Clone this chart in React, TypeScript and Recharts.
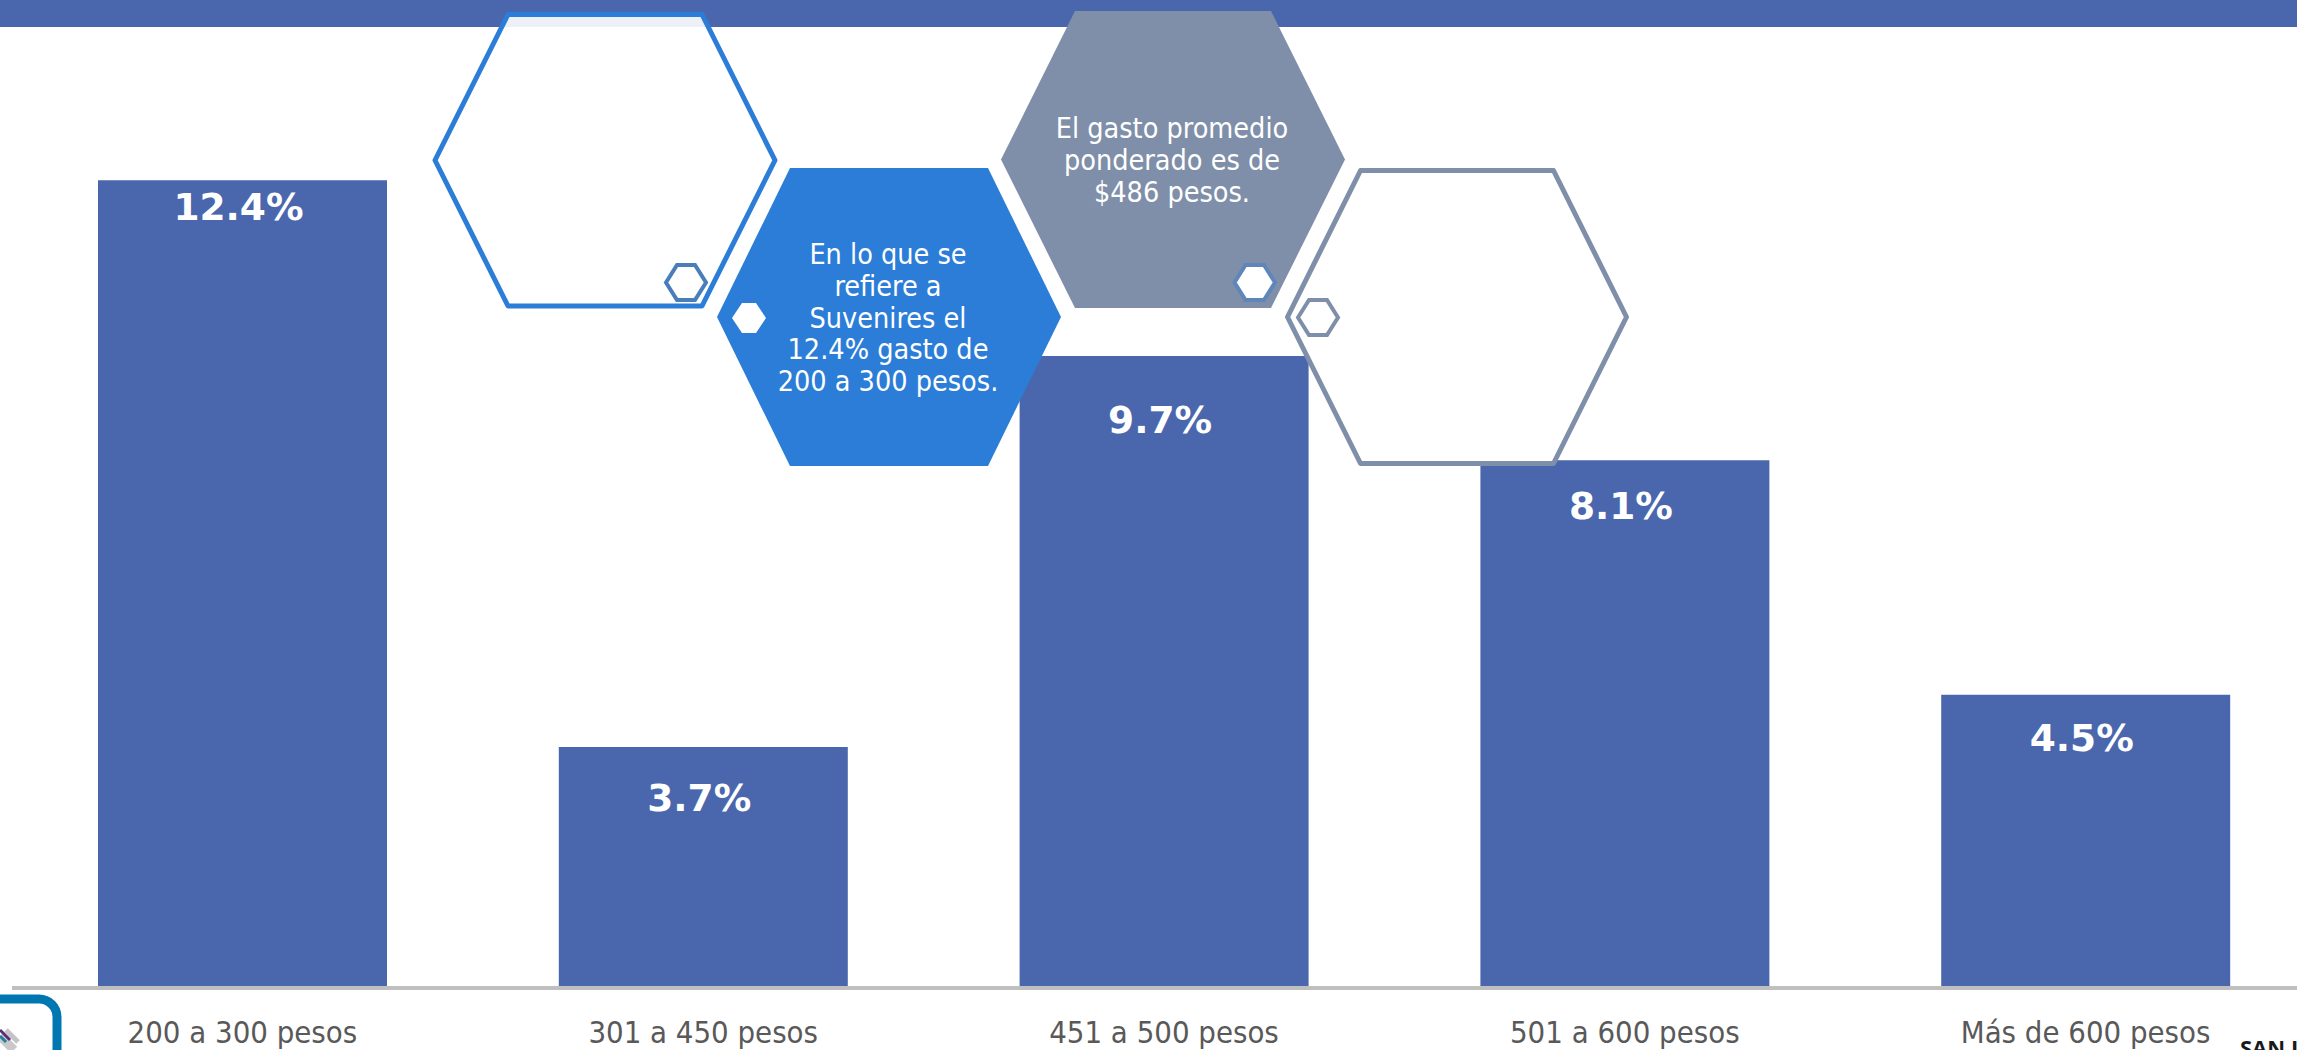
import { BarChart, Bar, XAxis, YAxis, LabelList } from "recharts";

const rangos = ["200 a 300 pesos", "301 a 450 pesos", "451 a 500 pesos", "501 a 600 pesos", "Más de 600 pesos"];
const porcentajes = [12.4, 3.7, 9.7, 8.1, 4.5];

const datos = rangos.map((rango, i) => ({ rango, porcentaje: porcentajes[i] }));

const AZUL_BARRA = "#4a67ae";
const AZUL_VIVO = "#2b7dd8";
const GRIS_AZUL = "#7f8fa9";
const FUENTE = "'DejaVu Sans Condensed', 'DejaVu Sans', sans-serif";

// distancia del centro de cada etiqueta a la parte alta de su barra
const bajadaEtiqueta = [27, 51, 64, 46, 43];

function EtiquetaBarra(props: any) {
  const { x, y, width, index, value } = props;
  return (
    <text
      x={x + width / 2 - 4}
      y={y + bajadaEtiqueta[index]}
      textAnchor="middle"
      dominantBaseline="central"
      fill="#fff"
      fontFamily="'DejaVu Sans', sans-serif"
      fontWeight="bold"
      fontSize={37.5}
    >
      {value.toFixed(1)}%
    </text>
  );
}

function puntosHexagono(x0: number, x1: number, y0: number, y1: number, entrada: number) {
  const yc = (y0 + y1) / 2;
  return [
    [x0, yc],
    [x0 + entrada, y0],
    [x1 - entrada, y0],
    [x1, yc],
    [x1 - entrada, y1],
    [x0 + entrada, y1],
  ]
    .map((p) => p.join(","))
    .join(" ");
}

function TextoHexagono({ lineas, x, y }: { lineas: string[]; x: number; y: number }) {
  return (
    <text x={x} y={y} textAnchor="middle" fill="#fff" fontFamily={FUENTE} fontSize={28.5}>
      {lineas.map((l, i) => (
        <tspan key={l} x={x} dy={i === 0 ? 0 : 31.8}>
          {l}
        </tspan>
      ))}
    </text>
  );
}

// franja superior, hexágonos, logo y firma
function Decoracion() {
  return (
    <svg width={2297} height={1050} style={{ position: "absolute", left: 0, top: 0 }}>
      <rect x={0} y={0} width={2297} height={27} fill={AZUL_BARRA} />

      <polygon
        points={puntosHexagono(435, 775, 14.5, 306, 73)}
        fill="#fff"
        fillOpacity={0.9}
        stroke={AZUL_VIVO}
        strokeWidth={5}
        strokeLinejoin="round"
      />
      <polygon points={puntosHexagono(666, 706, 265, 300, 11)} fill="#fff" stroke="#4a7ebb" strokeWidth={4} />

      <polygon points={puntosHexagono(717, 1061, 168, 466, 73)} fill={AZUL_VIVO} />
      <polygon points={puntosHexagono(732, 766, 303, 333, 10)} fill="#fff" />
      <TextoHexagono
        x={888}
        y={264}
        lineas={["En lo que se", "refiere a", "Suvenires el", "12.4% gasto de", "200 a 300 pesos."]}
      />

      <polygon points={puntosHexagono(1001, 1345, 11, 308, 74)} fill={GRIS_AZUL} />
      <polygon points={puntosHexagono(1234.5, 1275, 265, 300, 11)} fill="#fff" stroke="#5f86b8" strokeWidth={4} />
      <TextoHexagono x={1172} y={138} lineas={["El gasto promedio", "ponderado es de", "$486 pesos."]} />

      <polygon
        points={puntosHexagono(1287.5, 1626.5, 170.5, 463.5, 73)}
        fill="#fff"
        stroke={GRIS_AZUL}
        strokeWidth={5}
        strokeLinejoin="round"
      />
      <polygon points={puntosHexagono(1298, 1338, 300, 335, 11)} fill="#fff" stroke={GRIS_AZUL} strokeWidth={4} />

      {/* logo recortado en la esquina */}
      <rect x={-40} y={999} width={97} height={100} rx={18} fill="#fff" stroke="#0077b0" strokeWidth={9} />
      <line x1={0} y1={1036} x2={14} y2={1050} stroke="#c9c9c9" strokeWidth={9} />
      <line x1={6} y1={1030} x2={18} y2={1042} stroke="#c4c4c8" strokeWidth={5} />
      <line x1={0} y1={1030} x2={10} y2={1040} stroke="#5b2a78" strokeWidth={3} />
      <line x1={0} y1={1036} x2={6} y2={1042} stroke="#1f7f9e" strokeWidth={3} />

      <text x={2240} y={1056} fill="#1a1a1a" fontFamily="'Open Sans', sans-serif" fontWeight={700} fontSize={22}>
        SAN L
      </text>
    </svg>
  );
}

export default function App() {
  return (
    <div style={{ position: "absolute", left: 0, top: 0, width: 2297, height: 1050, overflow: "hidden", background: "#fff" }}>
      <BarChart
        width={2316}
        height={1050}
        data={datos}
        margin={{ top: 0, right: 0, bottom: 0, left: 12 }}
        barSize={289}
      >
        <YAxis hide domain={[0, 15.165]} />
        <Bar dataKey="porcentaje" fill={AZUL_BARRA} isAnimationActive={false}>
          <LabelList dataKey="porcentaje" content={EtiquetaBarra} />
        </Bar>
        <XAxis
          dataKey="rango"
          height={62}
          interval={0}
          tickLine={false}
          tickMargin={27}
          axisLine={{ stroke: "#bfbfbf", strokeWidth: 4 }}
          tick={{ fill: "#595959", fontFamily: FUENTE, fontSize: 30.8 }}
        />
      </BarChart>
      <Decoracion />
    </div>
  );
}
